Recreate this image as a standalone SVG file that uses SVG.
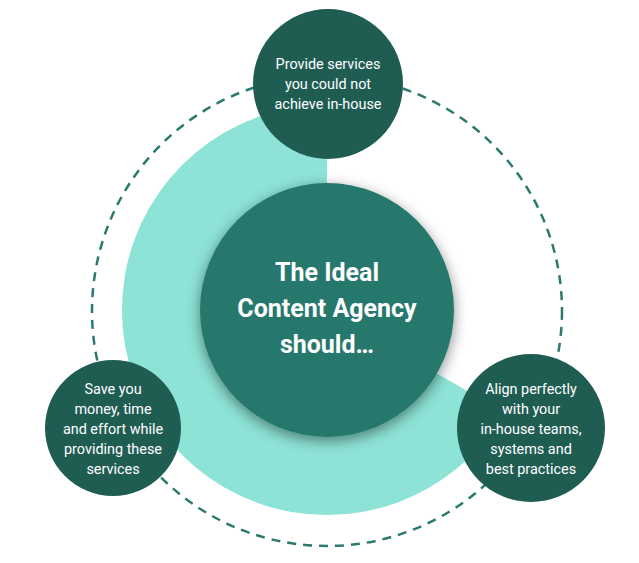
<svg xmlns="http://www.w3.org/2000/svg" width="639" height="563" viewBox="0 0 639 563">
<defs>
<style>
.sm{fill:#1f5d53}
.t{fill:#fff;font-family:Roboto,"Liberation Sans",sans-serif;font-size:14.4px;text-anchor:middle}
.b{fill:#fff;font-family:Roboto,"Liberation Sans",sans-serif;font-size:25px;font-weight:bold;text-anchor:middle}
</style>
<filter id="sh" x="-30%" y="-30%" width="160%" height="160%"><feDropShadow dx="0" dy="4" stdDeviation="7" flood-color="#000" flood-opacity="0.45"/></filter>
</defs>
<rect width="639" height="563" fill="#fff"/>
<g id="ring">
<path d="M327,310 L327,105 A205,205 0 1,0 504.5,412.5 Z" fill="#8de3d6"/>
<circle cx="327" cy="311" r="235" fill="none" stroke="#2a7a6d" stroke-width="2.5" stroke-dasharray="9,7"/>
</g>
<g id="center"><circle cx="327" cy="310" r="127" fill="#28786c" filter="url(#sh)"/>
<text class="b" x="327" y="281">The Ideal</text><text class="b" x="327" y="317">Content Agency</text><text class="b" x="327" y="353">should…</text></g>
<g id="top"><circle class="sm" cx="328" cy="84" r="75"/>
<text class="t" x="328" y="69">Provide services</text><text class="t" x="328" y="89">you could not</text><text class="t" x="328" y="109">achieve in-house</text></g>
<g id="left"><circle class="sm" cx="113" cy="428" r="68"/>
<text class="t" x="113" y="394">Save you</text><text class="t" x="113" y="414">money, time</text><text class="t" x="113" y="434">and effort while</text><text class="t" x="113" y="454">providing these</text><text class="t" x="113" y="474">services</text></g>
<g id="right"><circle class="sm" cx="531" cy="428" r="74"/>
<text class="t" x="531" y="394">Align perfectly</text><text class="t" x="531" y="414">with your</text><text class="t" x="531" y="434">in-house teams,</text><text class="t" x="531" y="454">systems and</text><text class="t" x="531" y="474">best practices</text></g>
</svg>
